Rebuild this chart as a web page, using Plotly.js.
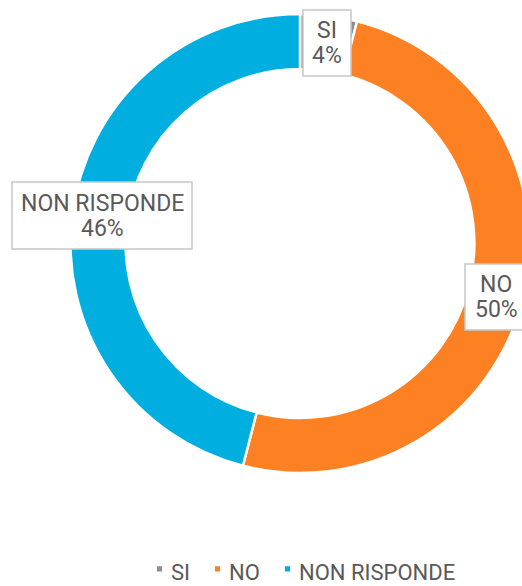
<!DOCTYPE html>
<html>
<head>
<meta charset="utf-8">
<script src="https://cdn.plot.ly/plotly-3.0.1.min.js"></script>
<style>
html, body { margin: 0; padding: 0; overflow: hidden; background: #fff; }
#chart { width: 560px; height: 600px; }
</style>
</head>
<body>
<div id="chart"></div>
<script>
// Data
var labels = ['SI', 'NO', 'NON RISPONDE'];
var values = [4, 50, 46];
var colors = ['#8E8E90', '#FD8022', '#00AFDF'];

var W = 560, H = 600;
var FONT = 'Roboto, Liberation Sans, Arial, sans-serif';
// label boxes [x0, x1, y0, y1] in pixels from top-left
var boxes = [[303, 351, 10, 76], [465, 530, 264, 330], [12, 192, 182, 249]];
var textX = [327, 496, 102];
// legend text start positions (pixels)
var legendTextX = [171, 229, 299];

function px(x) { return x / W; }
function py(y) { return 1 - y / H; }

var total = values.reduce(function(a, b) { return a + b; }, 0);
var shapes = [];
var annotations = [];
labels.forEach(function(l, i) {
  var b = boxes[i];
  shapes.push({
    type: 'rect', xref: 'paper', yref: 'paper', layer: 'above',
    x0: px(b[0]), x1: px(b[1]), y0: py(b[3]), y1: py(b[2]),
    fillcolor: '#ffffff', line: { color: '#C8C8C8', width: 1.5 }
  });
  var cyb = (b[2] + b[3]) / 2;
  var lines = [l, Math.round(values[i] / total * 100) + '%'];
  lines.forEach(function(t, j) {
    annotations.push({
      xref: 'paper', yref: 'paper',
      x: px(textX[i]), y: py(cyb + (j === 0 ? -12.5 : 12.5)),
      xanchor: 'center', yanchor: 'middle',
      text: t, showarrow: false,
      font: { family: FONT, size: 23, color: '#595959' }
    });
  });
});

var cx = 300, cy = 243.5, R = 229.5;
var trace = {
  type: 'pie',
  labels: labels,
  values: values,
  hole: 0.76,
  sort: false,
  direction: 'clockwise',
  rotation: 0,
  textinfo: 'none',
  hoverinfo: 'none',
  marker: { colors: colors, line: { color: '#ffffff', width: 2.5 } },
  domain: { x: [px(cx - R), px(cx + R)], y: [py(cy + R), py(cy - R)] }
};

var layout = {
  width: W, height: H,
  margin: { l: 0, r: 0, t: 0, b: 0 },
  paper_bgcolor: '#ffffff',
  showlegend: true,
  legend: {
    orientation: 'h', x: px(306), xanchor: 'center', y: py(572), yanchor: 'middle',
    font: { family: FONT, size: 22, color: '#595959' }
  },
  shapes: shapes,
  annotations: annotations
};

Plotly.newPlot('chart', [trace], layout, { staticPlot: true, displayModeBar: false }).then(function() {
  document.querySelectorAll('.legend [clip-path]').forEach(function(e) { e.removeAttribute('clip-path'); });
  document.querySelectorAll('.legendpoints path').forEach(function(p) {
    var t = p.getAttribute('transform') || '';
    p.setAttribute('transform', t + ' translate(8.5,-3) scale(0.55)');
  });
  document.querySelectorAll('.legend .traces').forEach(function(g, i) {
    var txt = g.querySelector('.legendtext');
    var r = txt.getBoundingClientRect();
    var dx = legendTextX[i] - r.left;
    var m = /translate\(\s*([-\d.e]+)[\s,]+([-\d.e]+)\s*\)/.exec(g.getAttribute('transform') || 'translate(0,0)');
    g.setAttribute('transform', 'translate(' + (parseFloat(m[1]) + dx) + ',' + m[2] + ')');
  });
});
</script>
</body>
</html>
